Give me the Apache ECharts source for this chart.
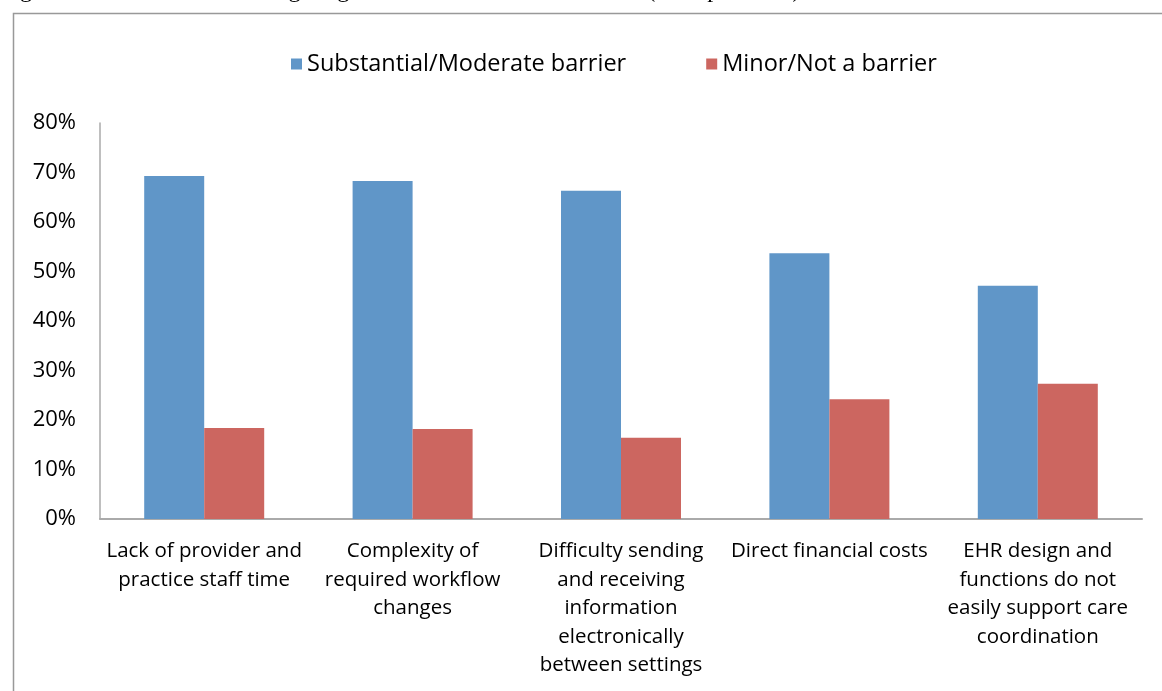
<!DOCTYPE html>
<html>
<head>
<meta charset="utf-8">
<script src="https://cdn.jsdelivr.net/npm/echarts@6/dist/echarts.min.js"></script>
<style>
  html, body { margin: 0; padding: 0; background: #fff; }
  #chart { width: 1162px; height: 691px; }
</style>
</head>
<body>
<div id="chart"></div>
<script>
// barriers (categories on x axis)
var categories = [
    'Lack of provider and\npractice staff time',
    'Complexity of\nrequired workflow\nchanges',
    'Difficulty sending\nand receiving\ninformation\nelectronically\nbetween settings',
    'Direct financial costs',
    'EHR design and\nfunctions do not\neasily support care\ncoordination'
];
var seriesNames = ['Substantial/Moderate barrier', 'Minor/Not a barrier'];
// percent of practices
var substantial = [69.3, 68.3, 66.3, 53.7, 47.1];
var minor = [18.4, 18.2, 16.4, 24.2, 27.3];

var font = '"Open Sans", Lato, sans-serif';
var myChart = echarts.init(document.getElementById('chart'));

var option = {
    animation: false,
    backgroundColor: '#fff',
    color: ['#6096C8', '#CC6660'],
    graphic: [
        {
            type: 'text', left: 0, top: -21, silent: true,
            style: {
                text: 'Figure 4. Barriers to Achieving Stage 3 Care Coordination Criteria (% of practices)',
                font: '24px "Liberation Serif", serif', fill: '#000'
            }
        },
        {
            type: 'rect', left: 11, top: 11, silent: true,
            shape: { width: 1200, height: 720 },
            style: { fill: 'none', stroke: '#999', lineWidth: 1.5 }
        }
    ],
    legend: {
        top: 47, left: 286,
        itemWidth: 11, itemHeight: 11, itemGap: 80,
        icon: 'rect',
        textStyle: { fontFamily: font, fontSize: 23.5, color: '#000' },
        data: seriesNames
    },
    grid: { left: 100, right: 20, top: 123, bottom: 172, containLabel: false },
    xAxis: {
        type: 'category',
        data: categories,
        axisLine: { lineStyle: { color: '#aaa', width: 2 } },
        axisTick: { show: false },
        axisLabel: {
            interval: 0, margin: 18, color: '#000',
            fontFamily: font, fontSize: 20.5, lineHeight: 28.5
        }
    },
    yAxis: {
        type: 'value', min: 0, max: 80, interval: 10,
        axisLine: { show: true, lineStyle: { color: '#aaa', width: 1.5 } },
        axisTick: { show: false },
        splitLine: { show: false },
        axisLabel: {
            margin: 24, color: '#000', fontFamily: font, fontSize: 22,
            formatter: '{value}%'
        }
    },
    series: [
        { name: seriesNames[0], type: 'bar', data: substantial, barWidth: 60, barGap: '0%' },
        { name: seriesNames[1], type: 'bar', data: minor, barWidth: 60, barGap: '0%' }
    ]
};

myChart.setOption(option);
</script>
</body>
</html>
